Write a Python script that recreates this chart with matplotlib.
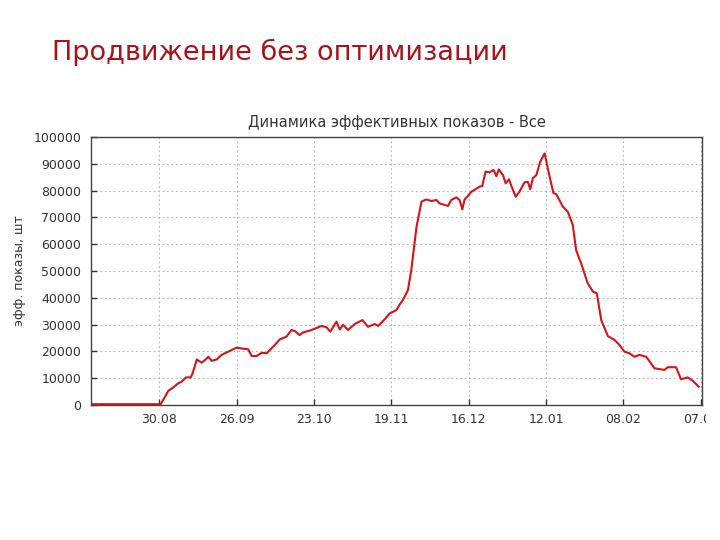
import matplotlib
matplotlib.use("Agg")
import matplotlib.pyplot as plt
from matplotlib.transforms import Bbox

# days counted from 30.08, values in thousands of impressions
days = [-24.8, 0.0, 0.5, 2.0, 3.2, 5.0, 6.8, 8.0, 9.6, 11.3, 12.0, 13.5, 15.3,
        16.5, 17.7, 18.9, 20.7, 22.5, 24.9, 27.9, 29.7, 32.1, 33.4, 35.2, 37.0,
        38.8, 41.2, 43.6, 46.0, 47.8, 49.0, 50.8, 52.0, 54.2, 55.1, 58.7, 60.5,
        61.9, 64.1, 65.3, 66.5, 68.3, 70.7, 73.5, 75.5, 78.0, 79.2, 81.6, 83.4,
        85.8, 87.0, 88.2, 90.0, 91.2, 93.1, 94.9, 96.7, 98.5, 100.3, 101.5,
        104.5, 105.7, 107.5, 108.7, 109.7, 110.5, 111.7, 113.0, 116.0, 116.9,
        118.1, 119.6, 121.0, 122.0, 122.9, 124.4, 125.4, 126.6, 127.8, 129.0,
        130.4, 132.2, 133.4, 134.3, 135.2, 136.5, 137.9, 139.5, 141.3, 142.7,
        143.7, 146.1, 147.9, 149.7, 150.9, 152.7, 155.1, 157.0, 158.4, 160.0,
        162.4, 164.8, 166.6, 168.4, 170.2, 172.0, 173.8, 176.3, 179.3, 182.9,
        184.1, 187.1, 188.9, 191.3, 193.1, 195.3]
shows_k = [0.3, 0.3, 0.4, 3.1, 5.3, 6.6, 8.1, 8.7, 10.3, 10.3, 11.8, 17.0, 15.8,
           16.8, 18.0, 16.5, 17.0, 18.7, 19.9, 21.4, 21.1, 20.8, 18.3, 18.3, 19.5,
           19.3, 21.8, 24.5, 25.5, 28.0, 27.6, 26.1, 27.1, 27.7, 28.0, 29.5, 29.0,
           27.4, 31.1, 28.2, 29.9, 28.0, 30.2, 31.7, 29.2, 30.2, 29.5, 32.0, 34.2,
           35.4, 37.5, 39.2, 42.9, 50.4, 66.5, 75.9, 76.7, 76.1, 76.5, 75.2,
           74.3, 76.5, 77.5, 76.5, 73.0, 76.7, 78.0, 79.6, 81.5, 81.7,
           87.1, 86.8, 87.7, 85.4, 87.9, 85.8, 82.7, 84.2, 80.8, 77.7,
           79.6, 83.1, 83.3, 80.5, 84.6, 85.8, 90.8, 93.9, 85.2, 79.0,
           78.7, 74.0, 72.1, 67.2, 57.8, 52.9, 45.4, 42.3, 41.7, 31.7,
           25.7, 24.3, 22.4, 19.9, 19.3, 18.0, 18.7, 18.0, 13.7, 13.1,
           14.1, 14.1, 9.6, 10.3, 9.1, 6.8]
tick_days = [0, 28, 56, 84, 112, 140, 168, 196]
tick_labels = ["30.08", "26.09", "23.10", "19.11", "16.12", "12.01", "08.02", "07.03"]
y_ticks = list(range(0, 100001, 10000))

fig = plt.figure(figsize=(7.2, 5.4), dpi=100)
fig.text(0.072, 0.903, "Продвижение без оптимизации", fontsize=19.5,
         color="#a8121a", ha="left", va="center")

ax = fig.add_axes([0.1264, 0.25, 0.8486, 0.4963])
ax.plot(days, [v * 1000 for v in shows_k], color="#d41418", linewidth=1.5)

ax.set_xlim(-24.8, 196.5)
ax.set_ylim(0, 100000)
ax.set_xticks(tick_days)
ax.set_xticklabels(tick_labels)
ax.set_yticks(y_ticks)
ax.set_yticklabels([str(v) for v in y_ticks])
ax.grid(True, linestyle=(0, (1.5, 2.5)), color="#b4b4b4", linewidth=0.8)
ax.tick_params(direction="in", length=4, width=1, colors="#333333",
               labelsize=9, pad=7)
ax.tick_params(axis="x", pad=6)
for s in ax.spines.values():
    s.set_color("#444444")
    s.set_linewidth(1)

ax.set_title("Динамика эффективных показов - Все", fontsize=10.5,
             color="#333333", pad=7)
ax.set_ylabel("эфф. показы, шт", fontsize=9, color="#333333", labelpad=5)

# the last label is cut off by the picture edge in the original
fig.canvas.draw()
last = ax.xaxis.get_major_ticks()[-1].label1
last.set_clip_on(True)
last.set_clip_box(Bbox([[0, 0], [706, 540]]))

plt.savefig("out.png", dpi=100)
